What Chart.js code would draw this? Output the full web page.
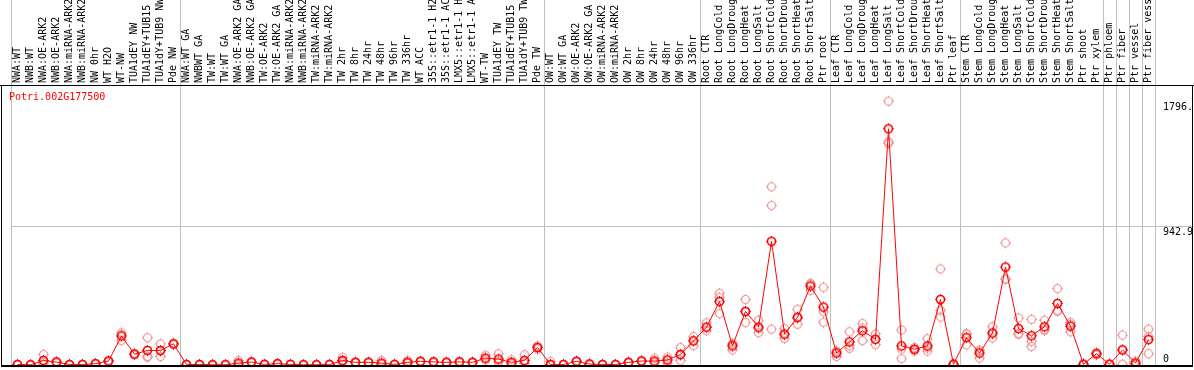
<!DOCTYPE html>
<html>
<head>
<meta charset="utf-8">
<script src="https://cdn.jsdelivr.net/npm/chart.js@4/dist/chart.umd.min.js"></script>
<style>
  body { margin: 0; background: #fff; }
  canvas { display: block; }
</style>
</head>
<body>
<canvas id="expr-chart" width="1194" height="370"></canvas>
<script>
// Sample names (truncated as in the source plot)
const sampleLabels = [
    'NWA:WT', 'NWB:WT', 'NWA:OE-ARK2', 'NWB:OE-ARK2', 'NWA:miRNA-ARK2', 'NWB:miRNA-ARK2',
    'NW 0hr', 'WT H2O', 'WT-NW', 'TUA1dEY NW', 'TUA1dEY+TUB15', 'TUA1dY+TUB9 NW', 'Pde NW',
    'NWA:WT GA', 'NWBWT GA', 'TW:WT', 'TW:WT GA', 'NWA:OE-ARK2 GA', 'NWB:OE-ARK2 GA',
    'TW:OE-ARK2', 'TW:OE-ARK2 GA', 'NWA:miRNA-ARK2', 'NWB:miRNA-ARK2', 'TW:miRNA-ARK2',
    'TW:miRNA-ARK2', 'TW 2hr', 'TW 8hr', 'TW 24hr', 'TW 48hr', 'TW 96hr', 'TW 336hr',
    'WT ACC', '35S::etr1-1 H2', '35S::etr1-1 AC', 'LMX5::etr1-1 H', 'LMX5::etr1-1 A',
    'WT-TW', 'TUA1dEY TW', 'TUA1dEY+TUB15', 'TUA1dY+TUB9 TW', 'Pde TW',
    'OW:WT', 'OW:WT GA', 'OW:OE-ARK2', 'OW:OE-ARK2 GA', 'OW:miRNA-ARK2', 'OW:miRNA-ARK2',
    'OW 2hr', 'OW 8hr', 'OW 24hr', 'OW 48hr', 'OW 96hr', 'OW 336hr',
    'Root CTR', 'Root LongCold', 'Root LongDroug', 'Root LongHeat', 'Root LongSalt',
    'Root ShortCold', 'Root ShortDrou', 'Root ShortHeat', 'Root ShortSalt', 'Ptr root',
    'Leaf CTR', 'Leaf LongCold', 'Leaf LongDroug', 'Leaf LongHeat', 'Leaf LongSalt',
    'Leaf ShortCold', 'Leaf ShortDrou', 'Leaf ShortHeat', 'Leaf ShortSalt', 'Ptr leaf',
    'Stem CTR', 'Stem LongCold', 'Stem LongDroug', 'Stem LongHeat', 'Stem LongSalt',
    'Stem ShortCold', 'Stem ShortDrou', 'Stem ShortHeat', 'Stem ShortSalt', 'Ptr shoot',
    'Ptr xylem', 'Ptr phloem', 'Ptr fiber', 'Ptr vessel', 'Ptr fiber vess'
];

// Index of the first sample in each group (a separator line is drawn before it)
const groupStarts = [0, 13, 41, 53, 63, 73, 84, 85, 86, 87];

// Mean expression per sample
const meanValues = [
    3, 2, 31, 20, 3, 3, 9, 27, 197, 74, 99, 99, 144,
    3, 3, 2, 2, 13, 20, 4, 9, 4, 2, 2, 3, 31, 18, 18, 13, 4, 18, 25, 21, 18, 21, 18, 47, 40, 18, 31, 119,
    3, 3, 25, 6, 3, 3, 18, 27, 27, 34, 72, 164,
    258, 432, 130, 365, 258, 842, 211, 325, 537, 394,
    81, 157, 233, 175, 1608, 130, 107, 130, 446, 5,
    186, 81, 218, 667, 248, 199, 260, 419, 264, 5, 77,
    5, 103, 13, 173
];

// Replicate values
const rep1 = [
    2, 2, 72, 18, 3, 3, 9, 27, 219, 74, 186, 144, 144,
    3, 3, 2, 2, 31, 20, 4, 9, 4, 2, 2, 3, 52, 18, 18, 31, 4, 31, 25, 21, 18, 21, 18, 67, 76, 35, 70, 130,
    23, 3, 25, 6, 3, 3, 18, 27, 47, 54, 119, 193,
    287, 488, 148, 446, 305, 1213, 248, 379, 555, 529,
    95, 226, 282, 211, 1796, 238, 107, 179, 654, 5,
    215, 100, 260, 831, 320, 311, 305, 520, 290, 5, 85,
    5, 204, 25, 244
];
const rep2 = [
    4, 3, 5, 25, 2, 4, 8, 25, 166, 70, 58, 95, 140,
    2, 2, 3, 1, 5, 22, 3, 10, 3, 3, 1, 4, 25, 20, 16, 5, 3, 13, 27, 23, 20, 19, 16, 40, 25, 12, 13, 119,
    0, 2, 27, 5, 2, 4, 20, 29, 20, 13, 31, 132,
    233, 461, 103, 289, 220, 1086, 181, 278, 506, 291,
    58, 114, 166, 175, 1520, 43, 95, 95, 372, 4,
    137, 47, 210, 584, 210, 160, 240, 372, 226, 4, 77,
    4, 5, 10, 193
];
const rep3 = [
    3, 1, 16, 17, 4, 2, 10, 29, 206, 78, 53, 58, 148,
    4, 4, 1, 3, 3, 18, 5, 8, 5, 1, 3, 2, 16, 16, 20, 3, 5, 10, 23, 19, 16, 23, 20, 34, 19, 7, 10, 108,
    0, 4, 23, 7, 4, 2, 16, 25, 14, 35, 66, 167,
    254, 349, 139, 360, 249, 244, 204, 318, 550, 362,
    90, 131, 251, 139, 1508, 109, 119, 116, 327, 6,
    206, 96, 184, 586, 214, 126, 235, 365, 276, 6, 69,
    6, 100, 4, 77
];

// Right axis ticks
const yTickValues = [0, 942.9, 1796];
const yTickLabels = ['0', '942.9', '1796.'];
const yMax = 1906;

const MONO = 'DejaVu Sans Mono';
const GRID_GREY = 'rgb(192, 192, 192)';
const RED = 'rgb(255, 0, 0)';
const PALE_RED = 'rgb(238, 150, 150)';

// Circle marker with small ticks, drawn once
function makeMarker(color, lw) {
    const c = document.createElement('canvas');
    c.width = 13;
    c.height = 13;
    const g = c.getContext('2d');
    g.strokeStyle = color;
    g.lineWidth = lw;
    g.beginPath();
    g.arc(6.5, 6.5, 4, 0, Math.PI * 2);
    g.stroke();
    g.lineWidth = 1;
    g.beginPath();
    g.moveTo(6.5, 1); g.lineTo(6.5, 2.5);
    g.moveTo(6.5, 10.5); g.lineTo(6.5, 12);
    g.moveTo(1, 6.5); g.lineTo(2.5, 6.5);
    g.moveTo(10.5, 6.5); g.lineTo(12, 6.5);
    g.stroke();
    return c;
}
const meanMarker = makeMarker(RED, 1.6);
const repMarker = makeMarker(PALE_RED, 1.2);

// Frame, gene name, left separator and right-hand tick labels
const decorations = {
    id: 'decorations',
    afterDraw(chart) {
        const ctx = chart.ctx;
        const area = chart.chartArea;
        const x = chart.scales.x;
        const y = chart.scales.y;
        ctx.save();
        ctx.strokeStyle = GRID_GREY;
        ctx.lineWidth = 1;
        ctx.beginPath();
        const firstLine = Math.round(x.getPixelForTick(0) - (x.getPixelForTick(1) - x.getPixelForTick(0)) / 2) + 0.5;
        ctx.moveTo(firstLine, 0);
        ctx.lineTo(firstLine, area.bottom);
        ctx.stroke();

        ctx.strokeStyle = '#000';
        ctx.beginPath();
        ctx.moveTo(0, area.top + 0.5);
        ctx.lineTo(chart.width, area.top + 0.5);
        ctx.moveTo(1.5, area.top);
        ctx.lineTo(1.5, area.bottom);
        ctx.moveTo(chart.width - 1.5, area.top);
        ctx.lineTo(chart.width - 1.5, area.bottom);
        ctx.stroke();
        ctx.lineWidth = 2;
        ctx.beginPath();
        ctx.moveTo(1, area.bottom + 1);
        ctx.lineTo(chart.width - 1, area.bottom + 1);
        ctx.stroke();

        ctx.font = '10px "' + MONO + '"';
        ctx.fillStyle = RED;
        ctx.textAlign = 'left';
        ctx.textBaseline = 'middle';
        ctx.fillText('Potri.002G177500', 9, area.top + 12);

        ctx.fillStyle = '#000';
        yTickValues.forEach((v, i) => {
            const py = y.getPixelForValue(v);
            ctx.textBaseline = v === 0 ? 'bottom' : 'top';
            ctx.fillText(yTickLabels[i], area.right + 8, v === 0 ? py - 1 : py + 1);
        });
        ctx.restore();
    }
};

Chart.defaults.font.family = MONO;
Chart.defaults.font.size = 10;

const ctx = document.getElementById('expr-chart').getContext('2d');
const exprChart = new Chart(ctx, {
    type: 'line',
    data: {
        labels: sampleLabels,
        datasets: [{
            label: 'mean',
            data: meanValues,
            borderColor: RED,
            borderWidth: 1,
            pointStyle: meanMarker,
            tension: 0,
            fill: false
        }, {
            label: 'rep1',
            data: rep1,
            showLine: false,
            pointStyle: repMarker
        }, {
            label: 'rep2',
            data: rep2,
            showLine: false,
            pointStyle: repMarker
        }, {
            label: 'rep3',
            data: rep3,
            showLine: false,
            pointStyle: repMarker
        }]
    },
    options: {
        responsive: false,
        animation: false,
        layout: {
            padding: { left: 11, right: 0, top: 0, bottom: 1 }
        },
        plugins: {
            legend: { display: false },
            tooltip: { enabled: false }
        },
        scales: {
            x: {
                position: 'top',
                offset: true,
                border: { display: false },
                grid: {
                    offset: true,
                    drawOnChartArea: true,
                    drawTicks: true,
                    tickLength: 85,
                    lineWidth: 1,
                    color: (c) => {
                        if (c.type !== 'tick') return GRID_GREY;
                        return groupStarts.includes(c.index) ? GRID_GREY : 'rgba(0,0,0,0)';
                    }
                },
                ticks: {
                    autoSkip: false,
                    maxRotation: 90,
                    minRotation: 90,
                    padding: -83,
                    labelOffset: 12,
                    color: '#000',
                    font: { family: MONO, size: 10 }
                },
                afterFit: (scale) => { scale.height = 85; }
            },
            y: {
                position: 'right',
                min: 0,
                max: yMax,
                border: { display: false },
                grid: {
                    drawTicks: true,
                    tickLength: 39,
                    color: (c) => (c.tick && c.tick.value === 942.9) ? GRID_GREY : 'rgba(0,0,0,0)'
                },
                ticks: { display: false },
                afterBuildTicks: (scale) => {
                    scale.ticks = yTickValues.map(v => ({ value: v }));
                },
                afterFit: (scale) => { scale.width = 39; }
            }
        }
    },
    plugins: [decorations]
});
</script>
</body>
</html>
